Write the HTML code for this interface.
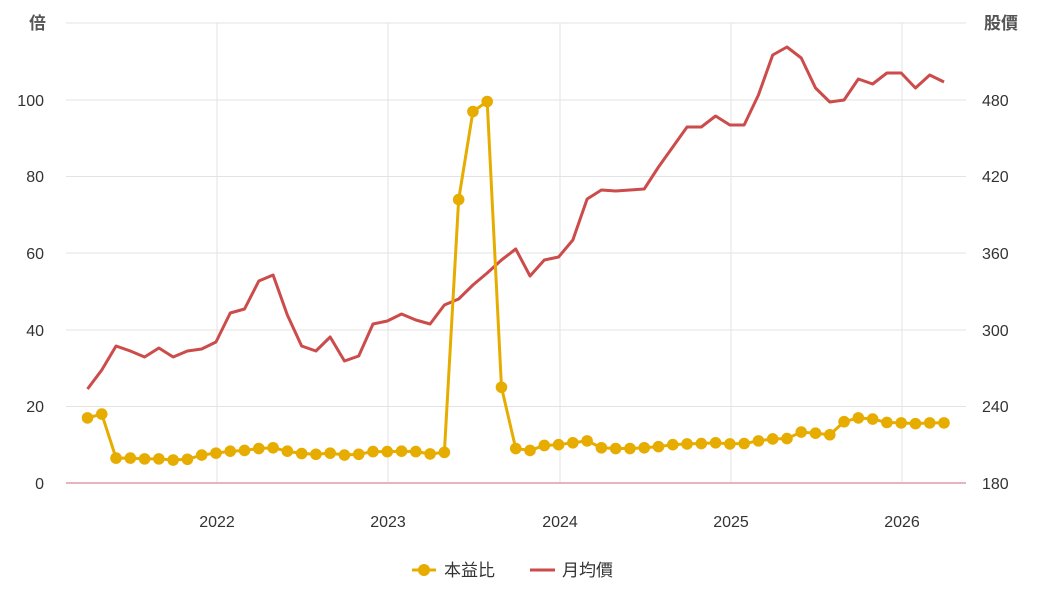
<!DOCTYPE html>
<html><head><meta charset="utf-8"><style>
body{margin:0;background:#fff;}
svg text{font-family:"Liberation Sans","Noto Sans CJK TC",sans-serif;}
</style></head><body>
<svg id="s" width="1048" height="592" xmlns="http://www.w3.org/2000/svg">
<g stroke="#e3e3e3" stroke-width="1">
<line x1="66" y1="23" x2="966" y2="23"/>
<line x1="66" y1="100" x2="966" y2="100"/>
<line x1="66" y1="176.5" x2="966" y2="176.5"/>
<line x1="66" y1="253" x2="966" y2="253"/>
<line x1="66" y1="330" x2="966" y2="330"/>
<line x1="66" y1="406.5" x2="966" y2="406.5"/>
<line x1="217" y1="23" x2="217" y2="483"/>
<line x1="388" y1="23" x2="388" y2="483"/>
<line x1="560" y1="23" x2="560" y2="483"/>
<line x1="731" y1="23" x2="731" y2="483"/>
<line x1="902" y1="23" x2="902" y2="483"/>
</g>
<line x1="66" y1="483" x2="966" y2="483" stroke="#e8b4bc" stroke-width="2"/>
<g fill="#333" font-size="16" text-anchor="end">
<text x="46" y="29" fill="#555" font-weight="bold" font-size="17">倍</text>
<text x="44" y="106">100</text><text x="44" y="182">80</text><text x="44" y="259">60</text>
<text x="44" y="336">40</text><text x="44" y="412">20</text><text x="44" y="489">0</text>
</g>
<g fill="#333" font-size="16" text-anchor="start">
<text x="984" y="29" fill="#555" font-weight="bold" font-size="17">股價</text>
<text x="982" y="106">480</text><text x="982" y="182">420</text><text x="982" y="259">360</text>
<text x="982" y="336">300</text><text x="982" y="412">240</text><text x="982" y="489">180</text>
</g>
<g fill="#333" font-size="16" text-anchor="middle">
<text x="217" y="527">2022</text><text x="388" y="527">2023</text><text x="560" y="527">2024</text>
<text x="731" y="527">2025</text><text x="902" y="527">2026</text>
</g>
<g id="ser"></g>
<line x1="412" y1="570" x2="436" y2="570" stroke="#e6ac00" stroke-width="3"/>
<circle cx="424" cy="570" r="6" fill="#e6ac00"/>
<text x="444" y="576" font-size="17" fill="#333">本益比</text>
<line x1="530" y1="570" x2="555" y2="570" stroke="#cc4b4b" stroke-width="3"/>
<text x="562" y="576" font-size="17" fill="#333">月均價</text>
</svg>
<script>
var pe=[17,18,6.5,6.5,6.3,6.3,6,6.2,7.3,7.8,8.3,8.5,9,9.2,8.3,7.7,7.5,7.8,7.3,7.5,8.2,8.2,8.3,8.2,7.6,8,74,97,99.6,25,9,8.5,9.8,10,10.5,11,9.2,9,9,9.2,9.5,10,10.2,10.3,10.5,10.2,10.3,11,11.5,11.6,13.3,13,12.6,16,17,16.7,15.8,15.7,15.5,15.7,15.7];
var pr=[389,370,346,351,357,348,357,351,349,342,313,309,281,275,315,346,351,337,361,356,324,321,314,320,324,305,299,285,273,260,249,276,260,257,240,199,190,191,190,189,167,147,127,127,116,125,125,95,55,47,58,88,102,100,79,84,73,73,88,75,82];
var g=document.getElementById('ser'),h='';
function X(i){return 87.5+i*14.275;}
var a=[],b=[];
for(var i=0;i<61;i++){a.push(X(i)+','+pr[i]);b.push(X(i)+','+(483-pe[i]*3.83));}
h+='<polyline points="'+a.join(' ')+'" fill="none" stroke="#cc4b4b" stroke-width="3" stroke-linejoin="round"/>';
h+='<polyline points="'+b.join(' ')+'" fill="none" stroke="#e6ac00" stroke-width="3" stroke-linejoin="round"/>';
for(var i=0;i<61;i++){h+='<circle cx="'+X(i)+'" cy="'+(483-pe[i]*3.83)+'" r="5.8" fill="#e6ac00"/>';}
g.innerHTML=h;
</script>
</body></html>
